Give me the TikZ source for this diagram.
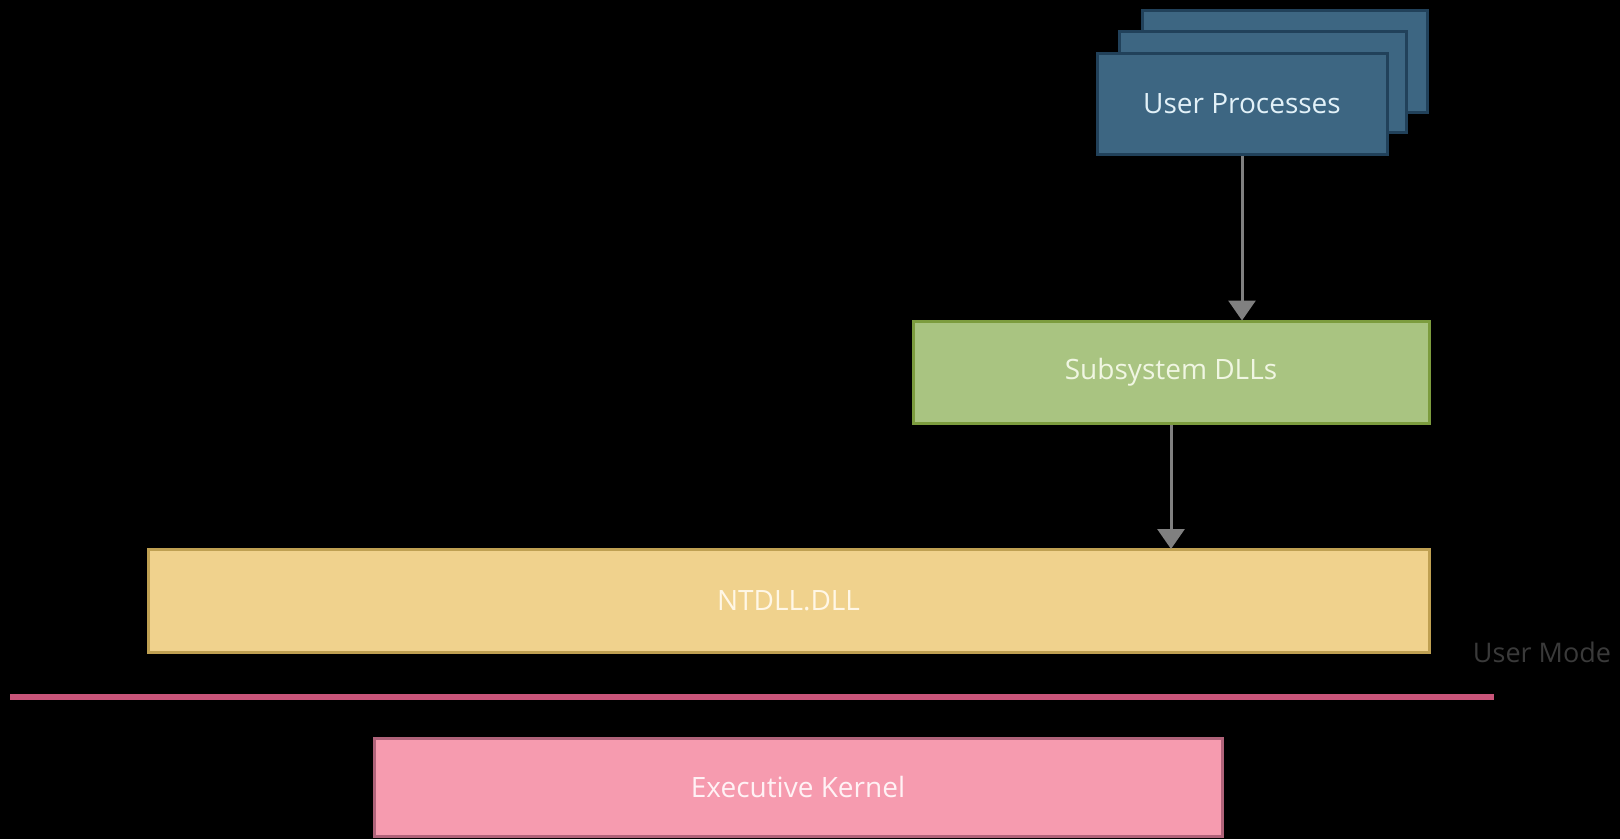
\documentclass[tikz,border=0pt]{standalone}
\usepackage{fontspec}
\setmainfont{Open Sans}
\usetikzlibrary{arrows.meta}
\definecolor{bluefill}{HTML}{3D6682}
\definecolor{blueedge}{HTML}{21415A}
\definecolor{bluetext}{HTML}{E2F1F8}
\definecolor{greenfill}{HTML}{A9C481}
\definecolor{greenedge}{HTML}{7C9C3E}
\definecolor{greentext}{HTML}{F0F6E2}
\definecolor{yellowfill}{HTML}{F0D28D}
\definecolor{yellowedge}{HTML}{BFA052}
\definecolor{yellowtext}{HTML}{FFF7E6}
\definecolor{pinkfill}{HTML}{F69BAF}
\definecolor{pinkedge}{HTML}{B0637A}
\definecolor{pinktext}{HTML}{FFF2F5}
\definecolor{sepline}{HTML}{C9557A}
\definecolor{arrowgray}{HTML}{808080}
\definecolor{modetext}{HTML}{3A3A3A}
\tikzset{
  layerbox/.style={draw, line width=3pt, inner sep=0pt, font=\fontsize{28}{32}\selectfont},
  procbox/.style={layerbox, fill=bluefill, draw=blueedge, text=bluetext},
  subbox/.style={layerbox, fill=greenfill, draw=greenedge, text=greentext},
  ntbox/.style={layerbox, fill=yellowfill, draw=yellowedge, text=yellowtext},
  kernbox/.style={layerbox, fill=pinkfill, draw=pinkedge, text=pinktext},
  flow/.style={draw=arrowgray, line width=3pt, -{Triangle[width=27pt,length=20pt]}, shorten >=-1pt},
}
\begin{document}
\begin{tikzpicture}[x=1pt,y=-1pt]
\fill[black] (0,0) rectangle (1620,839);
\useasboundingbox (0,0) rectangle (1620,839);
\node[procbox, minimum width=285pt, minimum height=102pt] (back) at (1284.5,61) {};
\node[procbox, minimum width=287pt, minimum height=101pt] (mid) at (1262.5,81.5) {};
\node[procbox, minimum width=290pt, minimum height=101pt] (front) at (1242,103.5) {User Processes};
\node[subbox, minimum width=516pt, minimum height=102pt] (sub) at (1171,372) {Subsystem DLLs};
\node[ntbox, minimum width=1281pt, minimum height=103pt] (nt) at (788.5,601) {NTDLL.DLL};
\node[kernbox, minimum width=848pt, minimum height=98pt] (kern) at (798,787) {Executive Kernel};
\coordinate (l1) at (10,697);
\coordinate (l2) at (1494,697);
\draw[sepline, line width=6pt] (l1) -- (l2);
\node[text=modetext, font=\fontsize{27}{31}\selectfont, inner sep=0pt] (umode) at (1542,652) {User Mode};
\draw[flow] (front.south) -- (front.south |- sub.north);
\draw[flow] (sub.south) -- (sub.south |- nt.north);
\end{tikzpicture}
\end{document}
